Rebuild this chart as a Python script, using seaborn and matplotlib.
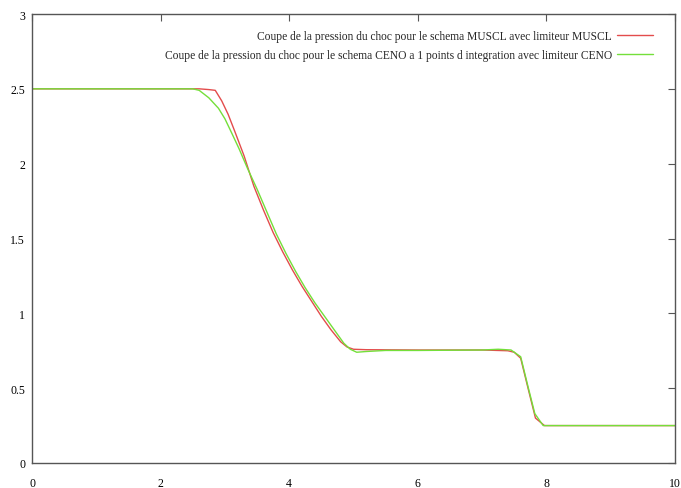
import matplotlib
matplotlib.use("Agg")
import matplotlib.pyplot as plt
import seaborn as sns
import pandas as pd

# pressure cut, MUSCL scheme with MUSCL limiter
x_muscl = [0.0, 2.6, 2.75, 2.85, 2.95, 3.05, 3.15, 3.3, 3.45, 3.6, 3.75, 3.9,
           4.05, 4.2, 4.35, 4.5, 4.65, 4.8, 4.9, 5.0, 5.2, 6.0, 7.0, 7.4, 7.5,
           7.6, 7.72, 7.83, 7.97, 10.0]
p_muscl = [2.5, 2.5, 2.495, 2.49, 2.42, 2.33, 2.22, 2.05, 1.85, 1.69, 1.54, 1.41,
           1.29, 1.18, 1.08, 0.98, 0.89, 0.81, 0.775, 0.76, 0.757, 0.755, 0.755, 0.75, 0.74,
           0.70, 0.49, 0.30, 0.25, 0.25]

# pressure cut, CENO scheme (1 integration point) with CENO limiter
x_ceno = [0.0, 2.5, 2.6, 2.75, 2.9, 3.0, 3.1, 3.22, 3.35, 3.5, 3.65, 3.8, 3.95,
          4.1, 4.25, 4.4, 4.55, 4.7, 4.85, 4.95, 5.05, 5.2, 5.5, 6.0, 7.0, 7.25,
          7.45, 7.6, 7.72, 7.82, 7.95, 10.0]
p_ceno = [2.5, 2.5, 2.49, 2.44, 2.37, 2.30, 2.21, 2.10, 1.97, 1.83, 1.68, 1.53, 1.40,
          1.28, 1.17, 1.07, 0.98, 0.89, 0.80, 0.76, 0.74, 0.745, 0.752, 0.752, 0.755, 0.76,
          0.755, 0.71, 0.50, 0.33, 0.25, 0.25]

label_muscl = "Coupe de la pression du choc pour le schema MUSCL avec limiteur MUSCL"
label_ceno = "Coupe de la pression du choc pour le schema CENO a 1 points d integration avec limiteur CENO"

sns.set_style("white")
plt.rcParams["font.family"] = ["Liberation Serif", "DejaVu Serif"]

fig = plt.figure(figsize=(6.81, 4.89), dpi=100)
# axes box: x 32..675 px, y 15..464 px
ax = fig.add_axes([32 / 681, 25 / 489, 643 / 681, 449 / 489])

df_m = pd.DataFrame({"x": x_muscl, "p": p_muscl})
df_c = pd.DataFrame({"x": x_ceno, "p": p_ceno})
sns.lineplot(data=df_m, x="x", y="p", ax=ax, color="#e34c4c", lw=1.0, label=label_muscl)
sns.lineplot(data=df_c, x="x", y="p", ax=ax, color="#74df3a", lw=1.0, label=label_ceno)

ax.set_xlim(0, 10)
ax.set_ylim(0, 3)
ax.set_xticks(range(0, 11, 2))
ax.set_yticks([0, 0.5, 1, 1.5, 2, 2.5, 3])
ax.set_yticklabels(["0", "0.5", "1", "1.5", "2", "2.5", "3"])
ax.set_xlabel("")
ax.set_ylabel("")
ax.tick_params(direction="in", length=5, width=0.8, color="#555555",
               top=True, right=True, labelsize=8.5, labelcolor="black")
ax.tick_params(axis="y", pad=5)
ax.tick_params(axis="x", pad=10)
for s in ax.spines.values():
    s.set_color("#555555")
    s.set_linewidth(1.0)

leg = ax.legend(loc="upper right", frameon=False, markerfirst=False, fontsize=8.3,
                handlelength=3.1, handletextpad=0.45, labelspacing=0.6,
                borderpad=0, borderaxespad=0,
                bbox_to_anchor=(653 / 681, 1 - 31 / 489), bbox_transform=fig.transFigure)
for t in leg.get_texts():
    t.set_ha("right")
leg._legend_box.align = "right"

fig.savefig("out.png", dpi=100)
